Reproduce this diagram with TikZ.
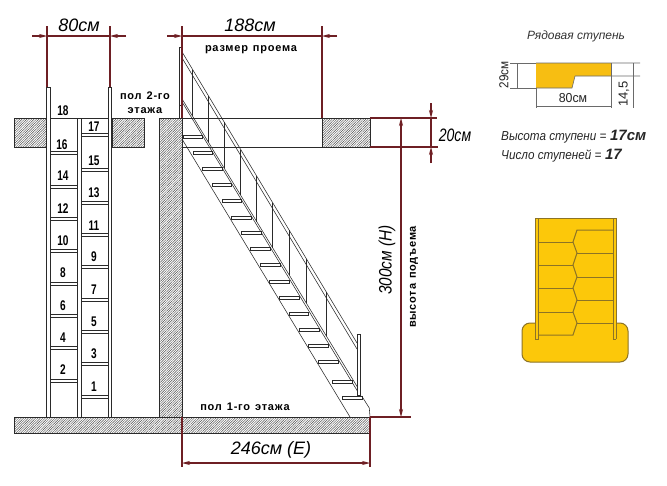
\documentclass[tikz,border=0pt]{standalone}
\usepackage{fontspec}
\setmainfont{Liberation Sans}
\newfontfamily\cadfont[LetterSpace=7,WordSpace=1.3]{Liberation Sans Bold}
\usetikzlibrary{patterns.meta,arrows.meta}
\definecolor{dimred}{HTML}{6E1F24}
\definecolor{glow}{HTML}{E8A0A0}
\definecolor{ink}{HTML}{2A2A2A}
\definecolor{stepyellow}{HTML}{F7BE12}
\definecolor{planyellow}{HTML}{FCC80A}
\definecolor{planline}{HTML}{8C7326}
\definecolor{thin}{HTML}{6A6A6A}
\tikzset{
  ln/.style={draw=ink,line width=.55pt},
  hatched/.style={draw=ink,line width=.6pt,pattern={Lines[angle=45,distance=1.7pt,line width=.45pt]},pattern color=black!70},
  treadbox/.style={draw=ink,line width=.55pt,fill=white},
  dimline/.style={draw=dimred,line width=1.1pt,preaction={draw=glow,line width=2.8pt,opacity=.35}},
  dimarrow/.style={dimline,-{Stealth[length=8pt,width=4pt]}},
  dimtxt/.style={font=\itshape\color{black!80},inner sep=0pt},
  cad/.style={font=\cadfont\fontsize{11}{13}\selectfont,inner sep=0pt,text=black},
  num/.style={font=\bfseries\fontsize{14}{14}\selectfont,inner sep=0pt,text=black},
  thinline/.style={draw=thin,line width=.6pt},
  plan/.style={draw=planline,line width=1pt},
  info/.style={font=\itshape\fontsize{13}{15}\selectfont,inner sep=0pt,text=black!85,anchor=west},
}
\newcommand{\narrow}[2]{\scalebox{#1}[1]{#2}}
\begin{document}
\begin{tikzpicture}[x=1pt,y=-1pt]
\useasboundingbox[fill=white] (0,0) rectangle (667,485);

% ---- hatched masonry
\path[hatched] (14,118) rectangle (46,147);
\path[hatched] (112,118) rectangle (144,147);
\path[hatched] (159,118) rectangle (182,417);
\path[hatched] (322,118) rectangle (370,147);
\path[hatched] (14,417) rectangle (370,433);

% ---- front view ladder
\draw[ln] (46,417) -- (46,87) -- (50,87) -- (50,417);
\draw[ln] (108,417) -- (108,87) -- (111,87) -- (111,417);
\draw[ln] (77,417) -- (77,118) (81,417) -- (81,118);
\draw[ln] (50,118) -- (108,118);
\foreach \y in {151,185,217,249,282,314,346,379}
  \draw[ln] (50,\y) -- (77,\y) (50,\y+3) -- (77,\y+3);
\foreach \y in {133,168,201,233,265,298,330,362,395}
  \draw[ln] (81,\y) -- (108,\y) (81,\y+3) -- (108,\y+3);

\foreach \t/\x/\y in {18/63/111,16/62/145,14/63/176,12/63/209,10/63/241,8/63/273,6/63/306,4/63/338,2/63/370,
  17/94/127,15/94/161,13/94/193,11/94/226,9/94/257,7/94/290,5/94/322,3/94/354,1/94/387}
  \node[num] (n\t) at (\x,\y) {\narrow{.72}{\t}};

% ---- side view: post, floor opening
\draw[ln] (179,118) -- (179,47) -- (182,47) -- (182,118);
\draw[ln] (179,105) -- (182,105);
\draw[ln] (182,118) -- (322,118);
\draw[ln] (182,147) -- (322,147);

% ---- handrail
\draw[ln] (182.7,53) -- (357,343);
\draw[ln] (182.7,59) -- (357,349);
% ---- stringers
\draw[ln] (182.7,100) -- (358,388);
\draw[ln] (182.7,103) -- (358,392);
\draw[ln] (182,139) -- (350,417);
\draw[ln] (361.7,396) -- (369.3,408) -- (370,417);
% ---- balusters
\foreach \x in {192.7,208.5,224.3,240.7,256.7,272.7,289,306,326}
  \draw[ln] (\x,{53+(\x-182.7)/.6}) -- (\x,{100+(\x-182.7)/.608});
% ---- lower newel post
\draw[ln,fill=white] (357.3,334) rectangle (360.7,395);
% ---- treads
\foreach \a/\b/\y in {183/202/135,193/212/151,202/222/167,212/231/183,222/241/199,231/251/216,241/261/231,
  250/270/247,260/280/263,269/289/280,279/299/296,289/308/312,299/319/328,308/328/344,318/338/360,332/352/380,342/362/396}
  \draw[treadbox] (\a,\y) rectangle (\b,\y+3.2);

% ---- dimension 80cm
\coordinate (a1) at (47,26); \coordinate (a2) at (47,87);
\coordinate (b1) at (110,26); \coordinate (b2) at (110,87);
\draw[dimline] (a1) -- (a2);
\draw[dimline] (b1) -- (b2);
\draw[dimline] (47,36) -- (110,36);
\draw[dimarrow] (32,36) -- (47,36);
\draw[dimarrow] (126,36) -- (110,36);
\node[dimtxt,font=\itshape\fontsize{18}{18}\selectfont] (t80) at (79,25) {80см};

% ---- dimension 188cm
\coordinate (c1) at (182,26); \coordinate (c2) at (182,118);
\coordinate (d1) at (322,26); \coordinate (d2) at (322,118);
\draw[dimline] (c1) -- (c2);
\draw[dimline] (d1) -- (d2);
\draw[dimline] (182,36) -- (322,36);
\draw[dimarrow] (167,36) -- (182,36);
\draw[dimarrow] (337,36) -- (322,36);
\node[dimtxt,font=\itshape\fontsize{18}{18}\selectfont] (t188) at (250,25) {188см};

% ---- dimension 20cm
\coordinate (e1) at (370,118); \coordinate (e2) at (437,118);
\coordinate (f1) at (370,147); \coordinate (f2) at (438,147);
\draw[dimline] (e1) -- (e2);
\draw[dimline] (f1) -- (f2);
\draw[dimline] (431,118) -- (431,147);
\draw[dimarrow] (431,103) -- (431,118);
\draw[dimarrow] (431,163) -- (431,147);
\node[dimtxt,font=\itshape\fontsize{18}{18}\selectfont] (t20) at (455,135) {\narrow{.78}{20см}};

% ---- dimension 300cm
\coordinate (g1) at (370,417); \coordinate (g2) at (411,417);
\draw[dimline] (g1) -- (g2);
\draw[dimline] (401,132) -- (401,405);
\draw[dimarrow] (401,132) -- (401,118);
\draw[dimarrow] (401,405) -- (401,417);
\node[dimtxt,font=\itshape\fontsize{18}{18}\selectfont,rotate=90] (t300) at (387,260) {\narrow{.85}{300см (Н)}};

% ---- dimension 246cm
\coordinate (h1) at (182,417); \coordinate (h2) at (182,467);
\coordinate (i1) at (370,417); \coordinate (i2) at (370,467);
\draw[dimline] (h1) -- (h2);
\draw[dimline] (i1) -- (i2);
\draw[dimline] (190,463) -- (360,463);
\draw[dimarrow] (197,463) -- (182,463);
\draw[dimarrow] (355,463) -- (370,463);
\node[dimtxt,font=\itshape\fontsize{18}{18}\selectfont] (t246) at (271,450) {246см (Е)};

% ---- CAD labels
\node[cad] (l1) at (145,96) {пол 2-го};
\node[cad] (l2) at (145,111) {этажа};
\node[cad] (l3) at (251,50) {размер проема};
\node[cad] (l4) at (245,407) {пол 1-го этажа};
\node[cad,rotate=90] (l5) at (414,277) {высота подъема};

% ---- typical tread
\node[inner sep=0pt,font=\itshape\fontsize{12}{14}\selectfont,text=black!80] (t0) at (576,36) {Рядовая ступень};
\fill[stepyellow] (536,63) -- (611,63) -- (611,76) -- (575,76) -- (572,88) -- (536,88) -- cycle;
\draw[thinline] (510,63) -- (536,63) (510,88) -- (536,88) (517,63) -- (517,88);
\draw[thinline] (536,63) -- (611,63) (611,63) -- (640,63) (575,76) -- (640,76) (572,88) -- (536,88) (575,76) -- (572,88);
\draw[thinline] (536,88) -- (536,108) (611,63) -- (611,108) (536,106) -- (611,106);
\draw[thinline] (633,63) -- (633,108);
\node[inner sep=0pt,rotate=90,font=\fontsize{13}{13}\selectfont,text=black!85] (t29) at (504,75) {\narrow{.9}{29см}};
\node[inner sep=0pt,font=\fontsize{13}{13}\selectfont,text=black!85] (t80b) at (573,98) {\narrow{.95}{80см}};
\node[inner sep=0pt,rotate=90,font=\fontsize{13}{13}\selectfont,text=black!85] (t145) at (624,94) {14,5};
\node[info] (s1) at (501,137) {\narrow{.9}{Высота ступени =} \textbf{\fontsize{15}{15}\selectfont 17см}};
\node[info] (s2) at (501,156) {\narrow{.9}{Число ступеней =} \textbf{\fontsize{15}{15}\selectfont 17}};

% ---- plan view
\draw[plan,fill=planyellow,rounded corners=8pt] (522,323) rectangle (628,362);
\fill[planyellow] (535,218) rectangle (616,340);
\draw[plan] (535,339) -- (535,218) -- (616,218) -- (616,339);
\draw[plan] (535,339) -- (538,339) -- (538,218);
\draw[plan] (616,339) -- (613,339) -- (613,218);
\draw[plan] (538,335) -- (573,335) -- (577,323) -- (573,312) -- (577,300) -- (573,288) -- (577,277) -- (573,265) -- (577,253) -- (573,242) -- (577,230) -- (613,230);
\foreach \y in {242,265,288,312} \draw[plan] (538,\y) -- (573,\y);
\foreach \y in {253,277,300,323} \draw[plan] (577,\y) -- (613,\y);
\end{tikzpicture}
\end{document}
